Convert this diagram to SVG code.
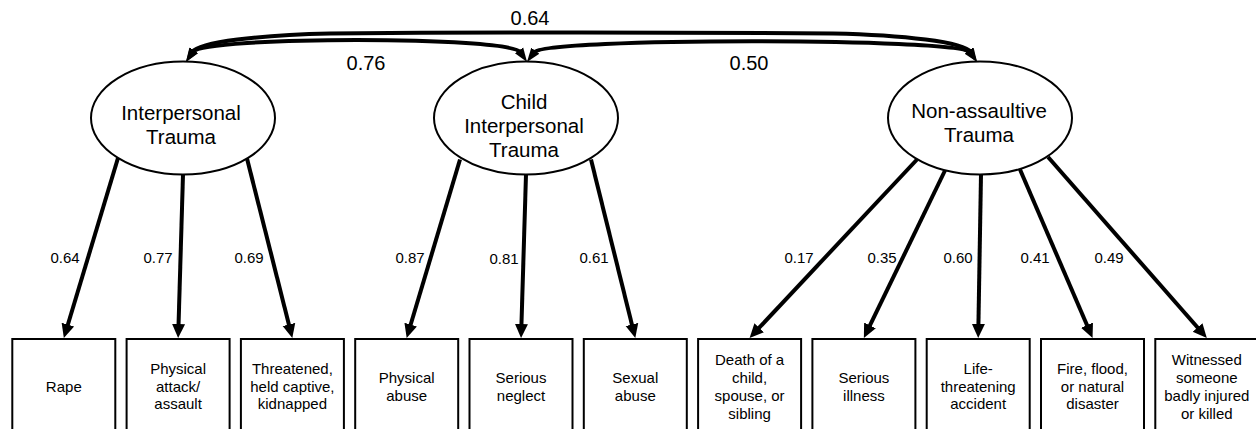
<svg xmlns="http://www.w3.org/2000/svg" width="1256" height="429" viewBox="0 0 1256 429">
<style>
text{font-family:"Liberation Sans",Arial,sans-serif;fill:#000;text-anchor:middle}
.lat{font-size:20.5px}
.cor{font-size:20px}
.box{font-size:15px}
.ld{font-size:15px}
ellipse{fill:#fff;stroke:#000;stroke-width:2}
rect{fill:#fff;stroke:#000;stroke-width:2}
.arr{fill:none;stroke:#000;stroke-width:4;marker-end:url(#ah)}
.cv{fill:none;stroke:#000;stroke-width:4;marker-end:url(#ahs);marker-start:url(#ahs)}
</style>
<defs>
<marker id="ah" markerUnits="userSpaceOnUse" markerWidth="16" markerHeight="16" viewBox="0 -8 16 16" refX="2" refY="0" orient="auto"><path d="M0,-6.5L14,0L0,6.5z" fill="#000"/></marker>
<marker id="ahs" markerUnits="userSpaceOnUse" markerWidth="16" markerHeight="16" viewBox="0 -8 16 16" refX="2" refY="0" orient="auto-start-reverse"><path d="M0,-5L14,0L0,5z" fill="#000"/></marker>
</defs>
<g id="connectors">
<path class="cv" d="M192.5,51.9 C199,42 260,35 330,33.5 Q581.5,31.5 833,33.5 C903,35 964,42 970.5,51.9"/>
<path class="cv" d="M192.8,52.1 C204,36 509,36 520.2,52.1"/>
<path class="cv" d="M534.1,52.3 C545,37.5 959,37.5 969.9,52.3"/>
<path class="arr" d="M118,158 L67.3,326.5"/>
<path class="arr" d="M183,174.5 L178.5,326"/>
<path class="arr" d="M247,158.6 L289.4,326.4"/>
<path class="arr" d="M460,159.5 L410.1,326.5"/>
<path class="arr" d="M526,174.5 L521.4,326"/>
<path class="arr" d="M591,159.5 L632.4,326.4"/>
<path class="arr" d="M917,159.5 L757.8,329.2"/>
<path class="arr" d="M945,170.5 L869.1,327.2"/>
<path class="arr" d="M981,174.5 L978.4,326"/>
<path class="arr" d="M1020,169.5 L1087.8,327"/>
<path class="arr" d="M1048,157 L1198.9,329"/>
<text class="cor" x="530" y="25">0.64</text>
<text class="cor" x="366" y="69.5">0.76</text>
<text class="cor" x="749" y="69.5">0.50</text>
<text class="ld" x="65" y="263">0.64</text>
<text class="ld" x="158" y="263">0.77</text>
<text class="ld" x="249" y="263">0.69</text>
<text class="ld" x="410" y="263">0.87</text>
<text class="ld" x="504" y="264">0.81</text>
<text class="ld" x="594" y="263">0.61</text>
<text class="ld" x="799" y="263">0.17</text>
<text class="ld" x="882" y="263">0.35</text>
<text class="ld" x="958" y="263">0.60</text>
<text class="ld" x="1035" y="263">0.41</text>
<text class="ld" x="1109" y="263">0.49</text>
</g>
<g id="lat-interpersonal">
<ellipse cx="183" cy="118" rx="92" ry="56.5"/>
<text class="lat" x="181" y="120">Interpersonal</text>
<text class="lat" x="181" y="144">Trauma</text>
</g>
<g id="lat-child">
<ellipse cx="526" cy="118" rx="92" ry="56.5"/>
<text class="lat" x="524" y="108.5">Child</text>
<text class="lat" x="524" y="133">Interpersonal</text>
<text class="lat" x="524" y="157">Trauma</text>
</g>
<g id="lat-nonassault">
<ellipse cx="980" cy="118" rx="92" ry="56.5"/>
<text class="lat" x="979" y="118">Non-assaultive</text>
<text class="lat" x="979" y="142">Trauma</text>
</g>
<g id="box-rape">
<rect x="12.3" y="339" width="103" height="100"/>
<text class="box" x="63.8" y="391.5">Rape</text>
</g>
<g id="box-attack">
<rect x="126.6" y="339" width="103" height="100"/>
<text class="box" x="178.1" y="374">Physical</text>
<text class="box" x="178.1" y="391.5">attack/</text>
<text class="box" x="178.1" y="409">assault</text>
</g>
<g id="box-threat">
<rect x="240.9" y="339" width="103" height="100"/>
<text class="box" x="292.4" y="374">Threatened,</text>
<text class="box" x="292.4" y="391.5">held captive,</text>
<text class="box" x="292.4" y="409">kidnapped</text>
</g>
<g id="box-physabuse">
<rect x="355.2" y="339" width="103" height="100"/>
<text class="box" x="406.7" y="383">Physical</text>
<text class="box" x="406.7" y="400.5">abuse</text>
</g>
<g id="box-neglect">
<rect x="469.5" y="339" width="103" height="100"/>
<text class="box" x="521" y="383">Serious</text>
<text class="box" x="521" y="400.5">neglect</text>
</g>
<g id="box-sexual">
<rect x="583.8" y="339" width="103" height="100"/>
<text class="box" x="635.3" y="383">Sexual</text>
<text class="box" x="635.3" y="400.5">abuse</text>
</g>
<g id="box-death">
<rect x="698.1" y="339" width="103" height="100"/>
<text class="box" x="749.6" y="364.5">Death of a</text>
<text class="box" x="749.6" y="382.5">child,</text>
<text class="box" x="749.6" y="400.5">spouse, or</text>
<text class="box" x="749.6" y="418.5">sibling</text>
</g>
<g id="box-illness">
<rect x="812.4" y="339" width="103" height="100"/>
<text class="box" x="863.9" y="383">Serious</text>
<text class="box" x="863.9" y="400.5">illness</text>
</g>
<g id="box-accident">
<rect x="926.7" y="339" width="103" height="100"/>
<text class="box" x="978.2" y="374">Life-</text>
<text class="box" x="978.2" y="391.5">threatening</text>
<text class="box" x="978.2" y="409">accident</text>
</g>
<g id="box-disaster">
<rect x="1041" y="339" width="103" height="100"/>
<text class="box" x="1092.5" y="374">Fire, flood,</text>
<text class="box" x="1092.5" y="391.5">or natural</text>
<text class="box" x="1092.5" y="409">disaster</text>
</g>
<g id="box-witnessed">
<rect x="1155.3" y="339" width="103" height="100"/>
<text class="box" x="1206.8" y="364.5">Witnessed</text>
<text class="box" x="1206.8" y="382.5">someone</text>
<text class="box" x="1206.8" y="400.5">badly injured</text>
<text class="box" x="1206.8" y="418.5">or killed</text>
</g>
</svg>
